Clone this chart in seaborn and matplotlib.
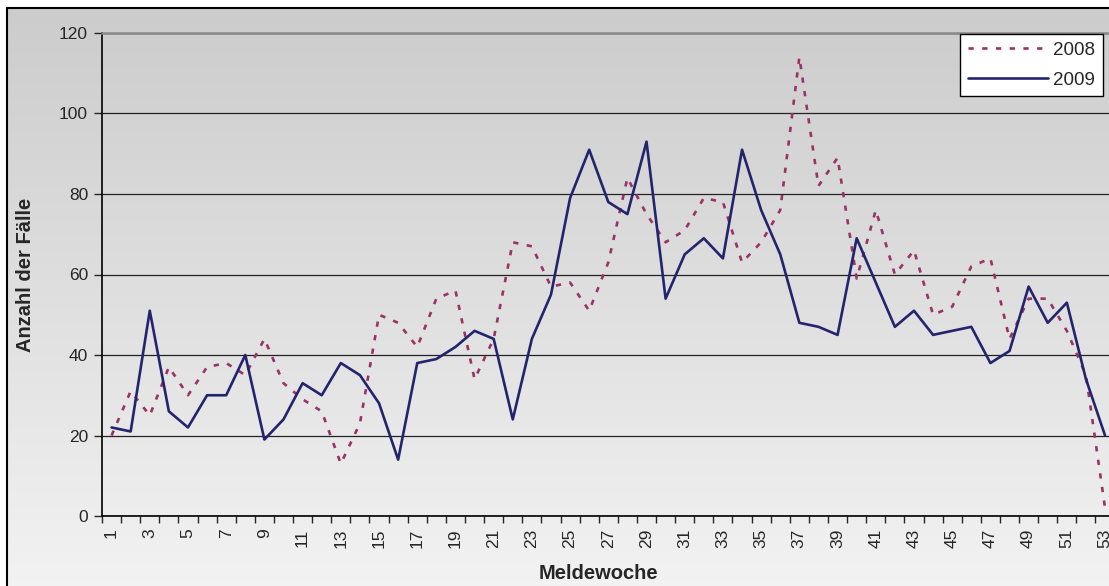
import numpy as np
import pandas as pd
import matplotlib
matplotlib.use("Agg")
import matplotlib.pyplot as plt
import seaborn as sns
from matplotlib.patches import Rectangle

# Meldewochen und Fallzahlen
wochen = list(range(1, 54))
faelle_2008 = [20, 31, 25, 37, 30, 37, 38, 35, 44, 33,
               29, 26, 13, 23, 50, 48, 42, 54, 56, 34,
               44, 68, 67, 57, 58, 51, 63, 84, 75, 68,
               71, 79, 78, 63, 68, 76, 114, 82, 89, 59,
               76, 60, 66, 50, 52, 62, 64, 44, 54, 54,
               46, 35, 2]
faelle_2009 = [22, 21, 51, 26, 22, 30, 30, 40, 19, 24,
               33, 30, 38, 35, 28, 14, 38, 39, 42, 46,
               44, 24, 44, 55, 79, 91, 78, 75, 93, 54,
               65, 69, 64, 91, 76, 65, 48, 47, 45, 69,
               58, 47, 51, 45, 46, 47, 38, 41, 57, 48,
               53, 34, 20]
jahre = ["2008", "2009"]
farben = {"2008": "#993366", "2009": "#24246e"}
y_ticks = [0, 20, 40, 60, 80, 100, 120]

df = pd.DataFrame({
    "Meldewoche": wochen * 2,
    "Faelle": faelle_2008 + faelle_2009,
    "Jahr": ["2008"] * 53 + ["2009"] * 53,
})

sns.set_style("ticks")
plt.rcParams["font.family"] = ["Liberation Sans", "DejaVu Sans"]

W, H = 1109, 586
fig = plt.figure(figsize=(W / 100, H / 100), dpi=100, facecolor="white")

# Hintergrund mit Verlauf
bg = fig.add_axes([7 / W, 0, 1 - 7 / W, 1 - 8 / H], zorder=0)
grad = np.linspace(0.80, 0.95, 256).reshape(-1, 1)
bg.imshow(np.dstack([grad, grad, grad]), aspect="auto", extent=[0, 1, 0, 1])
bg.set_axis_off()
fig.patches.append(Rectangle((7 / W, -0.01), 1.0, 1 - 8 / H + 0.01,
                             transform=fig.transFigure, fill=False,
                             edgecolor="black", linewidth=1.5, zorder=5))

ax = fig.add_axes([102 / W, 1 - 516 / H, 1012.6 / W, 483 / H], zorder=1)
ax.set_facecolor("none")

sns.lineplot(data=df[df["Jahr"] == "2008"], x="Meldewoche", y="Faelle",
             color=farben["2008"], linewidth=1.9, ax=ax,
             label="2008", linestyle=(0, (2, 3.2)))
sns.lineplot(data=df[df["Jahr"] == "2009"], x="Meldewoche", y="Faelle",
             color=farben["2009"], linewidth=1.9, ax=ax, label="2009")

ax.set_xlim(0.5, 53.5)
ax.set_ylim(0, 120)
ax.set_yticks(y_ticks)
ax.set_xticks(wochen[::2])
ax.set_xticks(np.arange(0.5, 54, 1), minor=True)
ax.tick_params(axis="x", which="major", length=0, labelsize=12.5,
               labelrotation=90, pad=9)
ax.tick_params(axis="x", which="minor", length=5, width=1, direction="out")
ax.tick_params(axis="y", length=6, width=1, direction="out", labelsize=12.5, pad=4)

ax.grid(axis="y", color="#222222", linewidth=0.9)
ax.set_axisbelow(True)
for s in ["left", "bottom"]:
    ax.spines[s].set_color("black")
    ax.spines[s].set_linewidth(1.2)
ax.spines["right"].set_visible(False)
ax.spines["top"].set_color("#888888")
ax.spines["top"].set_linewidth(1.8)

ax.set_xlabel("Meldewoche", fontsize=14.5, fontweight="bold")
ax.set_ylabel("Anzahl der Fälle", fontsize=14.5, fontweight="bold")
ax.xaxis.set_label_coords(0.49, -0.1)
ax.yaxis.set_label_coords(-0.066, 0.5)

leg = ax.legend(loc="upper left", bbox_to_anchor=(960 / W, 1 - 34 / H),
                bbox_transform=fig.transFigure, borderaxespad=0,
                fontsize=13.5, handlelength=4.3, handletextpad=0.27,
                labelspacing=0.7, borderpad=0.4, fancybox=False,
                framealpha=1, facecolor="white", edgecolor="black")
leg.get_frame().set_linewidth(1.0)

fig.savefig("out.png", dpi=100)
